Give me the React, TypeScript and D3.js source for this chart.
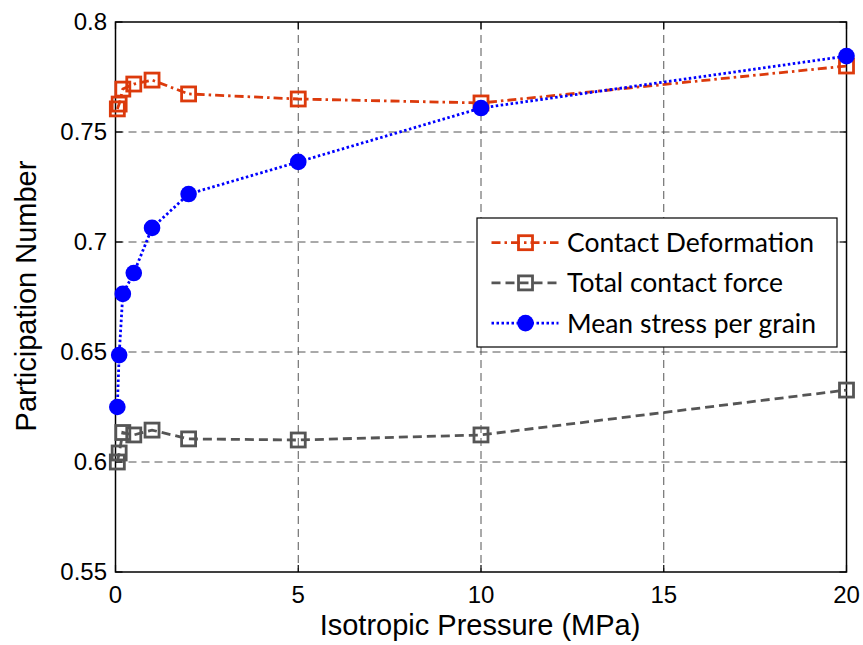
import React from "react";
import * as d3 from "d3";

const pressures = [0.05, 0.1, 0.2, 0.5, 1, 2, 5, 10, 20];
const contactDeformation = [0.7605, 0.7627, 0.7695, 0.7718, 0.7736, 0.7673, 0.765, 0.7632, 0.78];
const totalContactForce = [0.6, 0.6041, 0.6134, 0.6123, 0.6145, 0.6105, 0.61, 0.6123, 0.6327];
const meanStressPerGrain = [0.625, 0.6486, 0.6764, 0.6859, 0.7064, 0.7218, 0.7364, 0.7609, 0.7845];
const xTicks = [0, 5, 10, 15, 20];
const yTicks = [0.55, 0.6, 0.65, 0.7, 0.75, 0.8];
const yTickLabels = ["0.55", "0.6", "0.65", "0.7", "0.75", "0.8"];
const seriesNames = ["Contact Deformation", "Total contact force", "Mean stress per grain"];

const W = 863;
const H = 645;
const L = 115.5, R = 846.5, T = 22, B = 572;

const RED = "#dc3a0c";
const GRAY = "#555555";
const BLUE = "#0000ff";

export default function App() {
  const x = d3.scaleLinear().domain([0, 20]).range([L, R]);
  const y = d3.scaleLinear().domain([0.55, 0.8]).range([B, T]);
  const line = d3
    .line<[number, number]>()
    .x((d) => x(d[0]))
    .y((d) => y(d[1]));

  const series = [
    { name: seriesNames[0], vals: contactDeformation, color: RED, dash: "9 4 2.5 4", marker: "square" },
    { name: seriesNames[1], vals: totalContactForce, color: GRAY, dash: "9 5", marker: "square" },
    { name: seriesNames[2], vals: meanStressPerGrain, color: BLUE, dash: "2.5 2.5", marker: "circle" },
  ];

  const font = "'Liberation Sans', Arial, sans-serif";
  const tickLen = 7;

  const marker = (m: string, cx: number, cy: number, color: string, key: string) =>
    m === "square" ? (
      <rect key={key} x={cx - 7} y={cy - 7} width={14} height={14} fill="none" stroke={color} strokeWidth={2.8} />
    ) : (
      <circle key={key} cx={cx} cy={cy} r={8.3} fill={color} />
    );

  const legX = 477, legY = 218, legW = 360, legH = 129;

  return (
    <svg width={W} height={H} style={{ position: "absolute", left: 0, top: 0 }}>
      <rect x={0} y={0} width={W} height={H} fill="#fff" />
      {/* grid */}
      {xTicks.slice(1, -1).map((t) => (
        <line key={"gx" + t} x1={x(t)} x2={x(t)} y1={T} y2={B} stroke="#555" strokeWidth={1} strokeDasharray="8 5" />
      ))}
      {yTicks.slice(1, -1).map((t) => (
        <line key={"gy" + t} x1={L} x2={R} y1={y(t)} y2={y(t)} stroke="#555" strokeWidth={1} strokeDasharray="8 5" />
      ))}
      {/* frame */}
      <rect x={L} y={T} width={R - L} height={B - T} fill="none" stroke="#000" strokeWidth={1.5} />
      {/* ticks */}
      {xTicks.map((t) => (
        <g key={"tx" + t}>
          <line x1={x(t)} x2={x(t)} y1={B} y2={B - tickLen} stroke="#000" strokeWidth={1.2} />
          <line x1={x(t)} x2={x(t)} y1={T} y2={T + tickLen} stroke="#000" strokeWidth={1.2} />
          <text x={x(t)} y={603} textAnchor="middle" fontFamily={font} fontSize={24} fill="#000">
            {t}
          </text>
        </g>
      ))}
      {yTicks.map((t, i) => (
        <g key={"ty" + t}>
          <line x1={L} x2={L + tickLen} y1={y(t)} y2={y(t)} stroke="#000" strokeWidth={1.2} />
          <line x1={R} x2={R - tickLen} y1={y(t)} y2={y(t)} stroke="#000" strokeWidth={1.2} />
          <text x={107} y={y(t)} dy="0.35em" textAnchor="end" fontFamily={font} fontSize={24} fill="#000">
            {yTickLabels[i]}
          </text>
        </g>
      ))}
      {/* axis titles */}
      <text x={480} y={635} textAnchor="middle" fontFamily={font} fontSize={29} fill="#000">
        Isotropic Pressure (MPa)
      </text>
      <text
        transform={`translate(36,${296}) rotate(-90)`}
        textAnchor="middle"
        fontFamily={font}
        fontSize={29}
        fill="#000"
      >
        Participation Number
      </text>
      {/* series */}
      {series.map((s, si) => {
        const pts: [number, number][] = pressures.map((p, i) => [p, s.vals[i]]);
        return (
          <g key={"s" + si}>
            <path d={line(pts) || ""} fill="none" stroke={s.color} strokeWidth={2.8} strokeDasharray={s.dash} />
            {pts.map((d, i) => marker(s.marker, x(d[0]), y(d[1]), s.color, "m" + si + "-" + i))}
          </g>
        );
      })}
      {/* legend */}
      <rect x={legX} y={legY} width={legW} height={legH} fill="#fff" stroke="#000" strokeWidth={1.2} />
      {series.map((s, i) => {
        const cy = 242.7 + i * 40.2;
        return (
          <g key={"leg" + i}>
            <line x1={491.5} x2={558.5} y1={cy} y2={cy} stroke={s.color} strokeWidth={2.8} strokeDasharray={s.dash} />
            {marker(s.marker, 525.5, cy, s.color, "lm" + i)}
            <text x={567} y={cy} dy="0.36em" fontFamily="Lato, 'Open Sans', sans-serif" fontSize={26.5} fill="#000">
              {s.name}
            </text>
          </g>
        );
      })}
    </svg>
  );
}
